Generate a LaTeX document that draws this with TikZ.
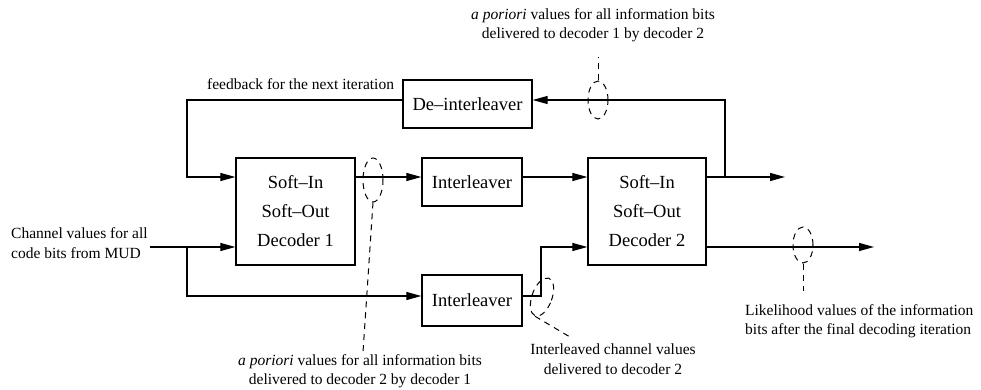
\documentclass[tikz,border=0pt]{standalone}
\usepackage{fontspec}
\setmainfont{Liberation Serif}
\usetikzlibrary{arrows.meta,shapes.geometric,calc}
\begin{document}
\begin{tikzpicture}[x=1pt,y=-1pt,
  blk/.style={draw,line width=1.3pt,inner sep=0pt,align=center,font=\fontsize{18.5}{29}\selectfont},
  lbl/.style={inner sep=0pt,align=center,font=\fontsize{15.5}{19.5}\selectfont},
  wire/.style={line width=1.2pt},
  arr/.style={wire,-{Triangle[length=15pt,width=8pt]}},
  loop/.style={draw,dashed,line width=1pt,ellipse,inner sep=0pt,dash pattern=on 6pt off 5pt},
  lead/.style={dashed,line width=1pt,dash pattern=on 6pt off 5pt}]
\useasboundingbox (0,0) rectangle (981,390);
% blocks
\node[blk,minimum width=119pt,minimum height=107pt] (dec1) at (295.5,211.5) {Soft–In\\Soft–Out\\Decoder 1};
\node[blk,minimum width=118pt,minimum height=107pt] (dec2) at (647,211.5) {Soft–In\\Soft–Out\\Decoder 2};
\node[blk,minimum width=100pt,minimum height=48pt] (il1) at (472,182) {Interleaver};
\node[blk,minimum width=100pt,minimum height=51pt] (il2) at (472,300.5) {Interleaver};
\node[blk,minimum width=129pt,minimum height=48pt] (deint) at (467.5,104) {De–interleaver};
% helper rows / columns
\coordinate (rowA) at (0,177);
\coordinate (rowB) at (0,247);
\coordinate (rowC) at (0,296);
\coordinate (rowF) at (0,100);
\coordinate (lx) at (187,0);
\coordinate (fbx) at (725,0);
\coordinate (jx) at (541,0);
\coordinate (inA) at (150,247);
\coordinate (outA) at (785,177);
\coordinate (outB) at (874,247);
% connectors
\draw[arr] (fbx |- rowA) -- (fbx |- rowF) -- (deint.east |- rowF);
\draw[arr] (dec2.east |- rowA) -- (outA);
\draw[arr] (deint.west |- rowF) -- (lx |- rowF) -- (lx |- rowA) -- (dec1.west |- rowA);
\draw[arr] (inA) -- (dec1.west |- rowB);
\draw[arr] (lx |- rowB) -- (lx |- rowC) -- (il2.west |- rowC);
\draw[arr] (dec1.east |- rowA) -- (il1.west |- rowA);
\draw[arr] (il1.east |- rowA) -- (dec2.west |- rowA);
\draw[arr] (il2.east |- rowC) -- (jx |- rowC) -- (jx |- rowB) -- (dec2.west |- rowB);
\draw[arr] (dec2.east |- rowB) -- (outB);
% dashed markers
\node[loop,minimum width=20pt,minimum height=44pt] (e1) at (373,180) {};
\node[loop,minimum width=20pt,minimum height=38pt] (e2) at (598,100) {};
\node[loop,minimum width=20pt,minimum height=40pt,rotate=-20] (e3) at (542,297) {};
\node[loop,minimum width=20pt,minimum height=36pt] (e4) at (803,245) {};
\coordinate (t1) at (363,352);
\coordinate (t2) at (598,57);
\coordinate (t3) at (570,337);
\coordinate (t4) at (803,291);
\draw[lead] (e1.south) -- (t1);
\draw[lead] (e2.north) -- (t2);
\draw[lead] (e3.south) -- (t3);
\draw[lead] (e4.south) -- (t4);
% labels
\node[lbl] (ltop) at (593,25) {\textit{a poriori} values for all information bits\\delivered to decoder 1 by decoder 2};
\node[lbl,anchor=base west] (lfb) at (207,90) {feedback for the next iteration};
\node[lbl,align=left,anchor=west] (lin) at (11,243) {Channel values for all\\code bits from MUD};
\node[lbl] (lbot) at (360,371) {\textit{a poriori} values for all information bits\\delivered to decoder 2 by decoder 1};
\node[lbl] (lint) at (613,359) {Interleaved channel values\\delivered to decoder 2};
\node[lbl,align=left,anchor=west] (llik) at (745,321) {Likelihood values of the information\\bits after the final decoding iteration};
\end{tikzpicture}
\end{document}
